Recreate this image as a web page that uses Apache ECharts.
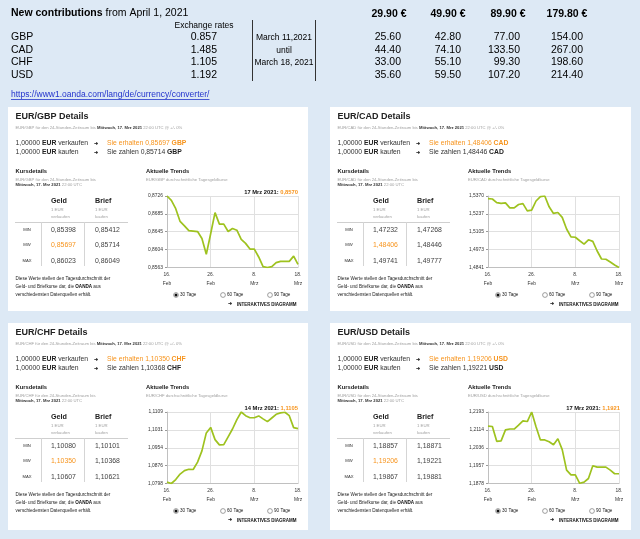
<!DOCTYPE html>
<html><head><meta charset="utf-8">
<script src="https://cdn.jsdelivr.net/npm/echarts@6/dist/echarts.min.js"></script>
<style>html,body{margin:0;padding:0;background:#dde9f5}#c{width:640px;height:539px}</style>
</head><body><div id="c"></div><script>
// ---------- DATA ----------
const dates = ['16. Feb','17. Feb','18. Feb','19. Feb','20. Feb','21. Feb','22. Feb','23. Feb','24. Feb','25. Feb','26. Feb','27. Feb','28. Feb',
  '1. Mrz','2. Mrz','3. Mrz','4. Mrz','5. Mrz','6. Mrz','7. Mrz','8. Mrz','9. Mrz','10. Mrz','11. Mrz','12. Mrz','13. Mrz','14. Mrz','15. Mrz','16. Mrz','17. Mrz','18. Mrz'];
const gbpRates = [0.8726,0.8716,0.8697,0.8668,0.8658,0.8647,0.8646,0.8645,0.8629,0.8593,0.8640,0.8688,0.8662,0.8662,0.8645,0.8652,0.8648,0.8627,0.8618,0.8605,0.8605,0.8587,0.8565,0.8563,0.8565,0.8574,0.8577,0.8577,0.8577,0.8589,0.8570];
const cadRates = [1.5350,1.5348,1.5321,1.5316,1.5319,1.5282,1.5282,1.5307,1.5314,1.5260,1.5265,1.5333,1.5366,1.5370,1.5290,1.5241,1.5248,1.5212,1.5126,1.5068,1.5065,1.5039,1.5014,1.5046,1.5034,1.4963,1.4904,1.4902,1.4882,1.4860,1.4841];
const chfRates = [1.0804,1.0798,1.0815,1.0839,1.0854,1.0860,1.0859,1.0891,1.0940,1.1018,1.1042,1.0989,1.0966,1.0967,1.1001,1.1035,1.1076,1.1109,1.1093,1.1084,1.1084,1.1092,1.1079,1.1067,1.1083,1.1099,1.1105,1.1108,1.1093,1.1041,1.1037];
const usdRates = [1.2131,1.2129,1.2064,1.2066,1.2114,1.2118,1.2118,1.2135,1.2154,1.2151,1.2193,1.2128,1.2070,1.2070,1.2062,1.2049,1.2075,1.2027,1.1937,1.1916,1.1916,1.1879,1.1884,1.1900,1.1956,1.1950,1.1950,1.1950,1.1937,1.1921,1.1921];
const gbpTicks = [0.8563,0.8604,0.8645,0.8685,0.8726];
const cadTicks = [1.4841,1.4973,1.5105,1.5237,1.5370];
const chfTicks = [1.0798,1.0876,1.0954,1.1031,1.1109];
const usdTicks = [1.1878,1.1957,1.2036,1.2114,1.2193];

const currencies = ['GBP','CAD','CHF','USD'];
const exchangeRates = ['0.857','1.485','1.105','1.192'];
const priceHeaders = ['29.90 €','49.90 €','89.90 €','179.80 €'];
const gbpPrices = ['25.60','42.80','77.00','154.00'];
const cadPrices = ['44.40','74.10','133.50','267.00'];
const chfPrices = ['33.00','55.10','99.30','198.60'];
const usdPrices = ['35.60','59.50','107.20','214.40'];

const gbpGeld = ['0,85398','0,85697','0,86023'], gbpBrief = ['0,85412','0,85714','0,86049'];
const cadGeld = ['1,47232','1,48406','1,49741'], cadBrief = ['1,47268','1,48446','1,49777'];
const chfGeld = ['1,10080','1,10350','1,10607'], chfBrief = ['1,10101','1,10368','1,10621'];
const usdGeld = ['1,18857','1,19206','1,19867'], usdBrief = ['1,18871','1,19221','1,19881'];
const headers = ['17 Mrz 2021: 0,8570', '', '14 Mrz 2021: 1,1105', '17 Mrz 2021: 1,1921'];

// ---------- BUILD ----------
const FF = "'Liberation Sans', Arial, Helvetica, sans-serif";
const DARK = '#222', GRAY = '#a0a0a0', ORANGE = '#f7941d';
function txt(x, y, text, size, o) {
  o = o || {};
  const st = {text: text, font: (o.weight || 'normal') + ' ' + size + 'px ' + FF, fill: o.color || DARK,
    textAlign: o.align || 'left', textVerticalAlign: 'middle'};
  if (o.rich) st.rich = o.rich;
  return {type: 'text', x: x, y: y, z: 10, silent: true, style: st};
}
function rs(size, weight, color) {
  return {fontSize: size, fontWeight: weight, fontFamily: FF, fill: color, color: color};
}
function line(x1, y1, x2, y2, c, w) {
  return {type: 'line', z: 5, silent: true, shape: {x1: x1, y1: y1, x2: x2, y2: y2}, style: {stroke: c || '#ccc', lineWidth: w || 1}};
}
const els = [];
// top table
els.push(txt(11, 13, '{b|New contributions}{n| from April 1, 2021}', 10.5, {rich: {b: rs(10.5, 'bold', '#000'), n: rs(10.5, 'normal', '#000')}}));
els.push(txt(204, 26, 'Exchange rates', 8.5, {align: 'center', color: '#000'}));
const rowY = [37, 50, 62.5, 75];
const priceRows = [gbpPrices, cadPrices, chfPrices, usdPrices];
const headX = [389, 448, 508, 567], valX = [401, 461, 520, 583];
currencies.forEach((c, i) => {
  els.push(txt(11, rowY[i], c, 10.5, {color: '#000'}));
  els.push(txt(217, rowY[i], exchangeRates[i], 10.5, {align: 'right', color: '#000'}));
  priceRows[i].forEach((p, j) => els.push(txt(valX[j], rowY[i], p, 10.5, {align: 'right', color: '#000'})));
});
priceHeaders.forEach((p, j) => els.push(txt(headX[j], 14, p, 10.5, {align: 'center', weight: 'bold', color: '#000'})));
els.push(line(252.5, 20, 252.5, 81, '#333'));
els.push(line(315.5, 20, 315.5, 81, '#333'));
els.push(txt(284, 38, 'March 11,2021', 8.5, {align: 'center', color: '#000'}));
els.push(txt(284, 50.5, 'until', 8.5, {align: 'center', color: '#000'}));
els.push(txt(284, 63, 'March 18, 2021', 8.5, {align: 'center', color: '#000'}));
const link = 'https://www1.oanda.com/lang/de/currency/converter/';
els.push(txt(11, 95, link, 8.5, {color: '#2233cc'}));
const mctx = document.createElement('canvas').getContext('2d');
mctx.font = '8.5px ' + FF;
els.push(line(11, 99.5, 11 + mctx.measureText(link).width, 99.5, '#2233cc', 0.8));

const panels = [
  {pair: 'EUR/GBP', cur: 'GBP', ox: 0, oy: 0, h: 204, geld: gbpGeld, brief: gbpBrief, head: headers[0]},
  {pair: 'EUR/CAD', cur: 'CAD', ox: 322, oy: 0, h: 204, geld: cadGeld, brief: cadBrief, head: headers[1]},
  {pair: 'EUR/CHF', cur: 'CHF', ox: 0, oy: 216, h: 207, geld: chfGeld, brief: chfBrief, head: headers[2]},
  {pair: 'EUR/USD', cur: 'USD', ox: 322, oy: 216, h: 207, geld: usdGeld, brief: usdBrief, head: headers[3]}
];
panels.forEach(p => {
  const X = v => v + p.ox, Y = v => v + p.oy;
  els.push({type: 'rect', z: -5, silent: true, shape: {x: X(8), y: Y(107), width: p.ox ? 301 : 300, height: p.h}, style: {fill: '#fff'}});
  els.push(txt(X(15.5), Y(117), p.pair + ' Details', 9, {weight: 'bold', color: '#222'}));
  const g = rs(4.2, 'normal', GRAY), k = rs(4.2, 'bold', '#333');
  els.push(txt(X(15.5), Y(128), '{g|' + p.pair + ' für den 24-Stunden-Zeitraum bis }{k|Mittwoch, 17. Mrz 2021}{g| 22:00 UTC @ +/- 0%}', 4.2, {rich: {g: g, k: k}}));
  const n = rs(6.8, 'normal', '#333'), b = rs(6.8, 'bold', '#222');
  const o = rs(6.8, 'normal', ORANGE), ob = rs(6.8, 'bold', ORANGE);
  els.push(txt(X(15.5), Y(143), '{n|1,00000 }{b|EUR}{n| verkaufen}', 6.8, {rich: {n: n, b: b}}));
  els.push(txt(X(15.5), Y(152), '{n|1,00000 }{b|EUR}{n| kaufen}', 6.8, {rich: {n: n, b: b}}));
  els.push(txt(X(95.5), Y(143.5), '➜', 5, {color: '#111', align: 'center', weight: 'bold'}));
  els.push(txt(X(95.5), Y(152.5), '➜', 5, {color: '#111', align: 'center', weight: 'bold'}));
  els.push(txt(X(107), Y(143), '{o|Sie erhalten ' + p.geld[1] + ' }{ob|' + p.cur + '}', 6.8, {rich: {o: o, ob: ob}}));
  els.push(txt(X(107), Y(152), '{n|Sie zahlen ' + p.brief[1] + ' }{b|' + p.cur + '}', 6.8, {rich: {n: n, b: b}}));
  els.push(txt(X(15.5), Y(171), 'Kursdetails', 5.8, {weight: 'bold', color: '#222'}));
  els.push(txt(X(146), Y(171), 'Aktuelle Trends', 5.8, {weight: 'bold', color: '#222'}));
  els.push(txt(X(15.5), Y(180), p.pair + ' für den 24-Stunden-Zeitraum bis', 4.2, {color: GRAY}));
  els.push(txt(X(15.5), Y(185), '{k|Mittwoch, 17. Mrz 2021}{g| 22:00 UTC}', 4.2, {rich: {g: g, k: k}}));
  els.push(txt(X(146), Y(180), p.pair + ' durchschnittliche Tagesgeldkurse', 4.2, {color: GRAY}));
  if (p.head) {
    const parts = p.head.split(': ');
    els.push(txt(X(298), Y(192), '{k|' + parts[0] + ': }{o|' + parts[1] + '}', 5.8, {align: 'right', rich: {k: rs(5.8, 'bold', '#111'), o: rs(5.8, 'bold', ORANGE)}}));
  }
  // Kursdetails table
  els.push(txt(X(51), Y(201), 'Geld', 7.2, {weight: 'bold'}));
  els.push(txt(X(95), Y(201), 'Brief', 7.2, {weight: 'bold'}));
  els.push(txt(X(51), Y(210), '1 EUR', 4.3, {color: GRAY}));
  els.push(txt(X(95), Y(210), '1 EUR', 4.3, {color: GRAY}));
  els.push(txt(X(51), Y(217), 'verkaufen', 4.3, {color: GRAY}));
  els.push(txt(X(95), Y(217), 'kaufen', 4.3, {color: GRAY}));
  els.push(line(X(15), Y(222.5), X(128), Y(222.5), '#cfcfcf'));
  els.push(line(X(41.5), Y(222), X(41.5), Y(266), '#d5d5d5'));
  els.push(line(X(84.5), Y(222), X(84.5), Y(266), '#d5d5d5'));
  const ry = [230, 245, 261], lab = ['MIN', 'MW', 'MAX'];
  ry.forEach((yy, i) => {
    els.push(txt(X(27), Y(yy), lab[i], 4.2, {align: 'center', color: '#333'}));
    els.push(txt(X(51), Y(yy), p.geld[i], 6.9, {color: i === 1 ? ORANGE : '#444'}));
    els.push(txt(X(95), Y(yy), p.brief[i], 6.9, {color: '#444'}));
  });
  const nn = rs(4.6, 'normal', '#222'), bb = rs(4.6, 'bold', '#111');
  els.push(txt(X(15.5), Y(279), 'Diese Werte stellen den Tagesdurchschnitt der', 4.6, {color: '#222'}));
  els.push(txt(X(15.5), Y(287), '{n|Geld- und Briefkurse dar, die }{b|OANDA}{n| aus}', 4.6, {rich: {n: nn, b: bb}}));
  els.push(txt(X(15.5), Y(294.5), 'verschiedensten Datenquellen erhält.', 4.6, {color: '#222'}));
  // radio buttons
  [176, 223, 270].forEach((cx, i) => {
    els.push({type: 'circle', z: 10, silent: true, shape: {cx: X(cx), cy: Y(295), r: 2.4}, style: {fill: '#fff', stroke: '#777', lineWidth: 0.7}});
    if (i === 0) els.push({type: 'circle', z: 11, silent: true, shape: {cx: X(cx), cy: Y(295), r: 1.5}, style: {fill: '#111'}});
    els.push(txt(X(cx + 4), Y(295), ['30', '60', '90'][i] + ' Tage', 4.6, {color: '#222'}));
  });
  els.push(txt(X(230), Y(304), '➜', 4.5, {align: 'center', color: '#111', weight: 'bold'}));
  els.push(txt(X(237), Y(304.5), 'INTERAKTIVES DIAGRAMM', 4.5, {weight: 'bold', color: '#111'}));
});

const chartDefs = [
  {ticks: gbpTicks, data: gbpRates, left: 167, top: 196},
  {ticks: cadTicks, data: cadRates, left: 488, top: 196},
  {ticks: chfTicks, data: chfRates, left: 167, top: 412},
  {ticks: usdTicks, data: usdRates, left: 488, top: 412}
];
const grids = [], xAxes = [], yAxes = [], series = [];
chartDefs.forEach((c, i) => {
  grids.push({left: c.left, top: c.top, width: 131, height: 71.5, containLabel: false});
  xAxes.push({type: 'category', gridIndex: i, data: dates, boundaryGap: false,
    axisLine: {lineStyle: {color: '#c0c0c0'}}, axisTick: {show: false},
    axisLabel: {interval: 9, fontSize: 4.9, fontFamily: FF, color: '#333', lineHeight: 8.5, margin: 3,
      formatter: v => v.replace(' ', '\n')},
    splitLine: {show: true, interval: 9, lineStyle: {color: '#e0e0e0', width: 1}}});
  const t = c.ticks;
  const lo = t[0], hi = t[t.length - 1];
  yAxes.push({type: 'value', gridIndex: i, min: lo, max: hi, interval: +((hi - lo) / (t.length - 1)).toFixed(6),
    axisLine: {show: true, lineStyle: {color: '#c0c0c0'}}, axisTick: {show: true, length: 2, lineStyle: {color: '#999'}},
    axisLabel: {fontSize: 4.9, fontFamily: FF, color: '#333', margin: 4,
      formatter: v => { let best = t[0]; t.forEach(q => { if (Math.abs(q - v) < Math.abs(best - v)) best = q; }); return best.toFixed(4).replace('.', ','); }},
    splitLine: {show: true, lineStyle: {color: '#e0e0e0'}}});
  series.push({type: 'line', xAxisIndex: i, yAxisIndex: i, data: c.data, showSymbol: false, symbol: 'none',
    lineStyle: {color: '#9ec21f', width: 1.7}, itemStyle: {color: '#9ec21f'}, z: 5});
});

const chart = echarts.init(document.getElementById('c'), null, {renderer: 'canvas'});
chart.setOption({
  animation: false,
  backgroundColor: '#dde9f5',
  grid: grids, xAxis: xAxes, yAxis: yAxes, series: series,
  graphic: {elements: els}
});
</script></body></html>
